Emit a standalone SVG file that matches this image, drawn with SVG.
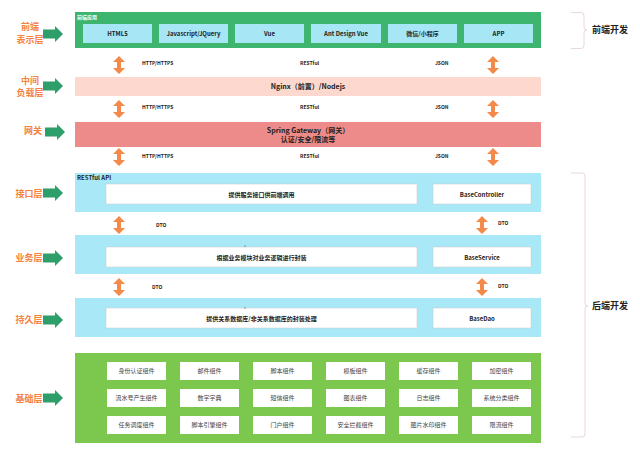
<svg xmlns="http://www.w3.org/2000/svg" width="640" height="455" viewBox="0 0 640 455">
<style>
text{font-family:"Noto Sans CJK SC","Liberation Sans",sans-serif;}
.lbl{fill:#f5823f;font-size:9px;font-weight:bold;text-anchor:middle;}
.cell{fill:#222;font-size:6px;font-weight:bold;text-anchor:middle;}
.comp{fill:#444;font-size:6px;text-anchor:middle;}
.tiny{fill:#222;font-size:5px;font-weight:bold;}
.hdr{fill:#fff;font-size:5px;font-weight:bold;}
.side{fill:#222;font-size:9px;font-weight:bold;}
.bc{fill:#a6e6f5;}
.wb{fill:#fff;stroke:#c8c8c8;stroke-width:0.5;}
.wc{fill:#fff;}
.blue{fill:#a9e9f7;}
.garr{fill:#2e9e6a;}
.oarr{fill:#f5894a;}
.brace{fill:none;stroke:#ead7dc;stroke-width:1;}
</style>
<defs>
<path id="ba" d="M0,-4.5 H12 V-8 L20,0 L12,8 V4.5 H0 Z"/>
<path id="da" d="M0,-9 L6,-3 L2,-3 L2,3 L6,3 L0,9 L-6,3 L-2,3 L-2,-3 L-6,-3 Z"/>
</defs>

<g id="labels">
<text class="lbl" x="30" y="30">前端</text>
<text class="lbl" x="30" y="43">表示层</text>
<text class="lbl" x="30" y="84">中间</text>
<text class="lbl" x="30" y="96">负载层</text>
<text class="lbl" x="33" y="134">网关</text>
<text class="lbl" x="29" y="197">接口层</text>
<text class="lbl" x="29" y="261">业务层</text>
<text class="lbl" x="29" y="323">持久层</text>
<text class="lbl" x="29" y="402">基础层</text>
<use href="#ba" class="garr" x="43" y="34"/>
<use href="#ba" class="garr" x="43" y="86"/>
<use href="#ba" class="garr" x="45" y="132"/>
<use href="#ba" class="garr" x="43" y="193"/>
<use href="#ba" class="garr" x="43" y="258"/>
<use href="#ba" class="garr" x="43" y="320"/>
<use href="#ba" class="garr" x="43" y="398"/>
</g>

<g id="frontend">
<rect x="75" y="12" width="466" height="36" fill="#3db56f"/>
<text class="hdr" x="77" y="19">前端应用</text>
<rect class="bc" x="83" y="24" width="69" height="19"/>
<rect class="bc" x="159" y="24" width="69" height="19"/>
<rect class="bc" x="235" y="24" width="69" height="19"/>
<rect class="bc" x="311" y="24" width="70" height="19"/>
<rect class="bc" x="388" y="24" width="69" height="19"/>
<rect class="bc" x="464" y="24" width="69" height="19"/>
<text class="cell" x="117.5" y="36">HTML5</text>
<text class="cell" x="193.5" y="36">Javascript/JQuery</text>
<text class="cell" x="269.5" y="36">Vue</text>
<text class="cell" x="346" y="36">Ant Design Vue</text>
<text class="cell" x="422.5" y="36">微信/小程序</text>
<text class="cell" x="498.5" y="36">APP</text>
</g>

<g id="nginx">
<rect x="75" y="77" width="466" height="19" fill="#fcd8ce"/>
<text class="cell" x="308" y="89" style="font-size:7px">Nginx（前置）/Nodejs</text>
</g>

<g id="gateway">
<rect x="75" y="122" width="466" height="25" fill="#ec8b89"/>
<text class="cell" x="308" y="133" style="font-size:7px">Spring Gateway（网关）</text>
<text class="cell" x="308" y="142" style="font-size:7px">认证/安全/限流等</text>
</g>

<g id="api">
<rect class="blue" x="75" y="173" width="466" height="39"/>
<text class="tiny" x="77" y="180" style="font-size:6px">RESTful API</text>
<rect class="wb" x="106" y="184" width="311" height="20"/>
<text class="cell" x="261.5" y="196.5">提供服务接口供前端调用</text>
<rect class="wb" x="433" y="184" width="98" height="20"/>
<text class="cell" x="482" y="196.5">BaseController</text>
</g>

<g id="service">
<rect class="blue" x="75" y="235" width="466" height="39"/>
<rect class="wb" x="106" y="247" width="311" height="20"/>
<text class="cell" x="261.5" y="259.5">根据业务模块对业务逻辑进行封装</text>
<circle cx="245" cy="246" r="0.6" fill="#333"/>
<rect class="wb" x="433" y="247" width="98" height="20"/>
<text class="cell" x="482" y="259.5">BaseService</text>
</g>

<g id="dao">
<rect class="blue" x="75" y="298" width="466" height="39"/>
<rect class="wb" x="106" y="308" width="311" height="20"/>
<text class="cell" x="261.5" y="320.5">提供关系数据库/非关系数据库的封装处理</text>
<circle cx="245" cy="308" r="0.6" fill="#333"/>
<rect class="wb" x="433" y="308" width="98" height="20"/>
<text class="cell" x="482" y="320.5">BaseDao</text>
</g>

<g id="foundation">
<rect x="75" y="353" width="466" height="90" fill="#7cc84e"/>
<g>
<rect class="wc" x="107" y="362" width="59" height="18"/><text class="comp" x="136.5" y="373">身份认证组件</text>
<rect class="wc" x="180" y="362" width="59" height="18"/><text class="comp" x="209.5" y="373">邮件组件</text>
<rect class="wc" x="253" y="362" width="59" height="18"/><text class="comp" x="282.5" y="373">脚本组件</text>
<rect class="wc" x="326" y="362" width="59" height="18"/><text class="comp" x="355.5" y="373">模板组件</text>
<rect class="wc" x="399" y="362" width="59" height="18"/><text class="comp" x="428.5" y="373">缓存组件</text>
<rect class="wc" x="472" y="362" width="59" height="18"/><text class="comp" x="501.5" y="373">加密组件</text>
<rect class="wc" x="107" y="389" width="59" height="18"/><text class="comp" x="136.5" y="400">流水号产生组件</text>
<rect class="wc" x="180" y="389" width="59" height="18"/><text class="comp" x="209.5" y="400">数字字典</text>
<rect class="wc" x="253" y="389" width="59" height="18"/><text class="comp" x="282.5" y="400">短信组件</text>
<rect class="wc" x="326" y="389" width="59" height="18"/><text class="comp" x="355.5" y="400">图表组件</text>
<rect class="wc" x="399" y="389" width="59" height="18"/><text class="comp" x="428.5" y="400">日志组件</text>
<rect class="wc" x="472" y="389" width="59" height="18"/><text class="comp" x="501.5" y="400">系统分类组件</text>
<rect class="wc" x="107" y="416" width="59" height="18"/><text class="comp" x="136.5" y="427">任务调度组件</text>
<rect class="wc" x="180" y="416" width="59" height="18"/><text class="comp" x="209.5" y="427">脚本引擎组件</text>
<rect class="wc" x="253" y="416" width="59" height="18"/><text class="comp" x="282.5" y="427">门户组件</text>
<rect class="wc" x="326" y="416" width="59" height="18"/><text class="comp" x="355.5" y="427">安全拦截组件</text>
<rect class="wc" x="399" y="416" width="59" height="18"/><text class="comp" x="428.5" y="427">图片水印组件</text>
<rect class="wc" x="472" y="416" width="59" height="18"/><text class="comp" x="501.5" y="427">限流组件</text>
</g>
</g>

<g id="connectors">
<use href="#da" class="oarr" x="119" y="65"/>
<use href="#da" class="oarr" x="493" y="65"/>
<use href="#da" class="oarr" x="119" y="109"/>
<use href="#da" class="oarr" x="493" y="109"/>
<use href="#da" class="oarr" x="119" y="157"/>
<use href="#da" class="oarr" x="493" y="157"/>
<use href="#da" class="oarr" x="119" y="225"/>
<use href="#da" class="oarr" x="482" y="225"/>
<use href="#da" class="oarr" x="119" y="287"/>
<use href="#da" class="oarr" x="482" y="287"/>
<text class="tiny" x="142" y="65">HTTP/HTTPS</text>
<text class="tiny" x="300" y="65">RESTful</text>
<text class="tiny" x="435" y="65">JSON</text>
<text class="tiny" x="142" y="109">HTTP/HTTPS</text>
<text class="tiny" x="300" y="109">RESTful</text>
<text class="tiny" x="435" y="109">JSON</text>
<text class="tiny" x="142" y="158">HTTP/HTTPS</text>
<text class="tiny" x="300" y="158">RESTful</text>
<text class="tiny" x="435" y="158">JSON</text>
<text class="tiny" x="156" y="227">DTO</text>
<text class="tiny" x="498" y="225">DTO</text>
<text class="tiny" x="152" y="289">DTO</text>
<text class="tiny" x="498" y="288">DTO</text>
</g>

<g id="braces">
<path class="brace" d="M571,12.5 H581 Q584,12.5 584,16 V27 Q584,30 587,30 Q584,30 584,33 V45 Q584,48.5 581,48.5 H571"/>
<text class="side" x="592" y="33">前端开发</text>
<path class="brace" d="M571,173 H582 Q585,173 585,176 V303 Q585,306 588,306 Q585,306 585,309 V434 Q585,437 582,437 H571"/>
<text class="side" x="592" y="309">后端开发</text>
</g>
</svg>
